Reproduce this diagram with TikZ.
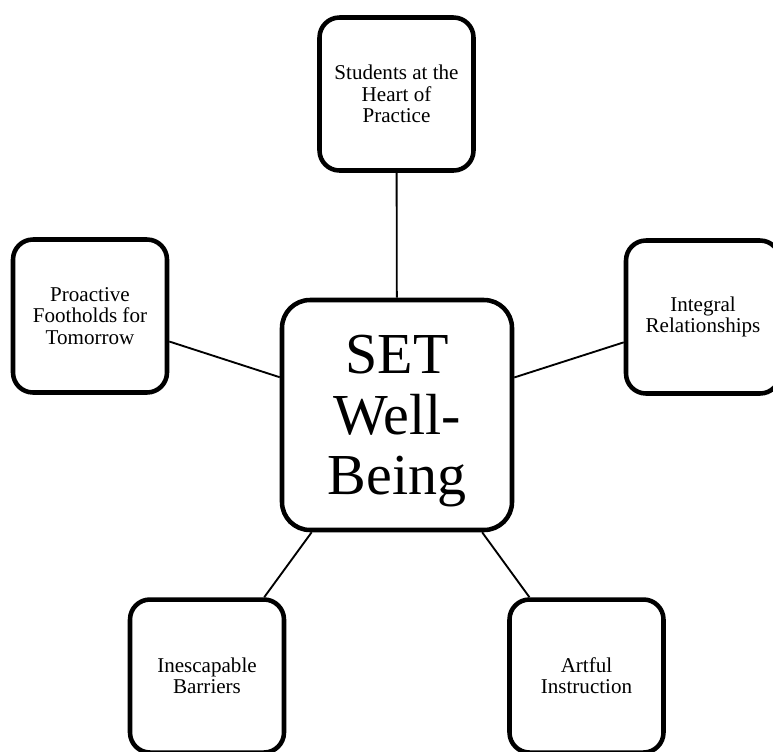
\documentclass[tikz,border=0pt]{standalone}
\usepackage{fontspec}
\setmainfont{Liberation Serif}
\begin{document}
\begin{tikzpicture}[x=0.75pt,y=-0.75pt,
  theme/.style={draw, line width=3.4pt, rounded corners=15pt,
    minimum width=115.5pt, minimum height=114.75pt, inner sep=0pt,
    align=center, font=\fontsize{15.8}{16}\selectfont},
  hub/.style={draw, line width=3.4pt, rounded corners=21pt,
    minimum width=172.5pt, minimum height=172.5pt, inner sep=0pt,
    align=center, font=\fontsize{43.5}{45.4}\selectfont, text depth=0pt},
  link/.style={line width=1.4pt}]
\clip (0,0) rectangle (773,751);

% central hub
\node[hub] (core) at (397,415) {SET\\Well-\\Being};

% surrounding themes
\node[theme] (students) at (396.5,94) {Students at the\\Heart of\\Practice};
\node[theme] (proactive) at (90,316) {Proactive\\Footholds for\\Tomorrow};
\node[theme] (integral) at (703,317) {Integral\\Relationships};
\node[theme] (barriers) at (207,676) {Inescapable\\Barriers};
\node[theme] (artful) at (586.5,676) {Artful\\Instruction};

% spokes
\draw[link] (core) -- (students);
\draw[link] (core) -- (proactive);
\draw[link] (core) -- (integral);
\draw[link] (core) -- (barriers);
\draw[link] (core) -- (artful);
\end{tikzpicture}
\end{document}
